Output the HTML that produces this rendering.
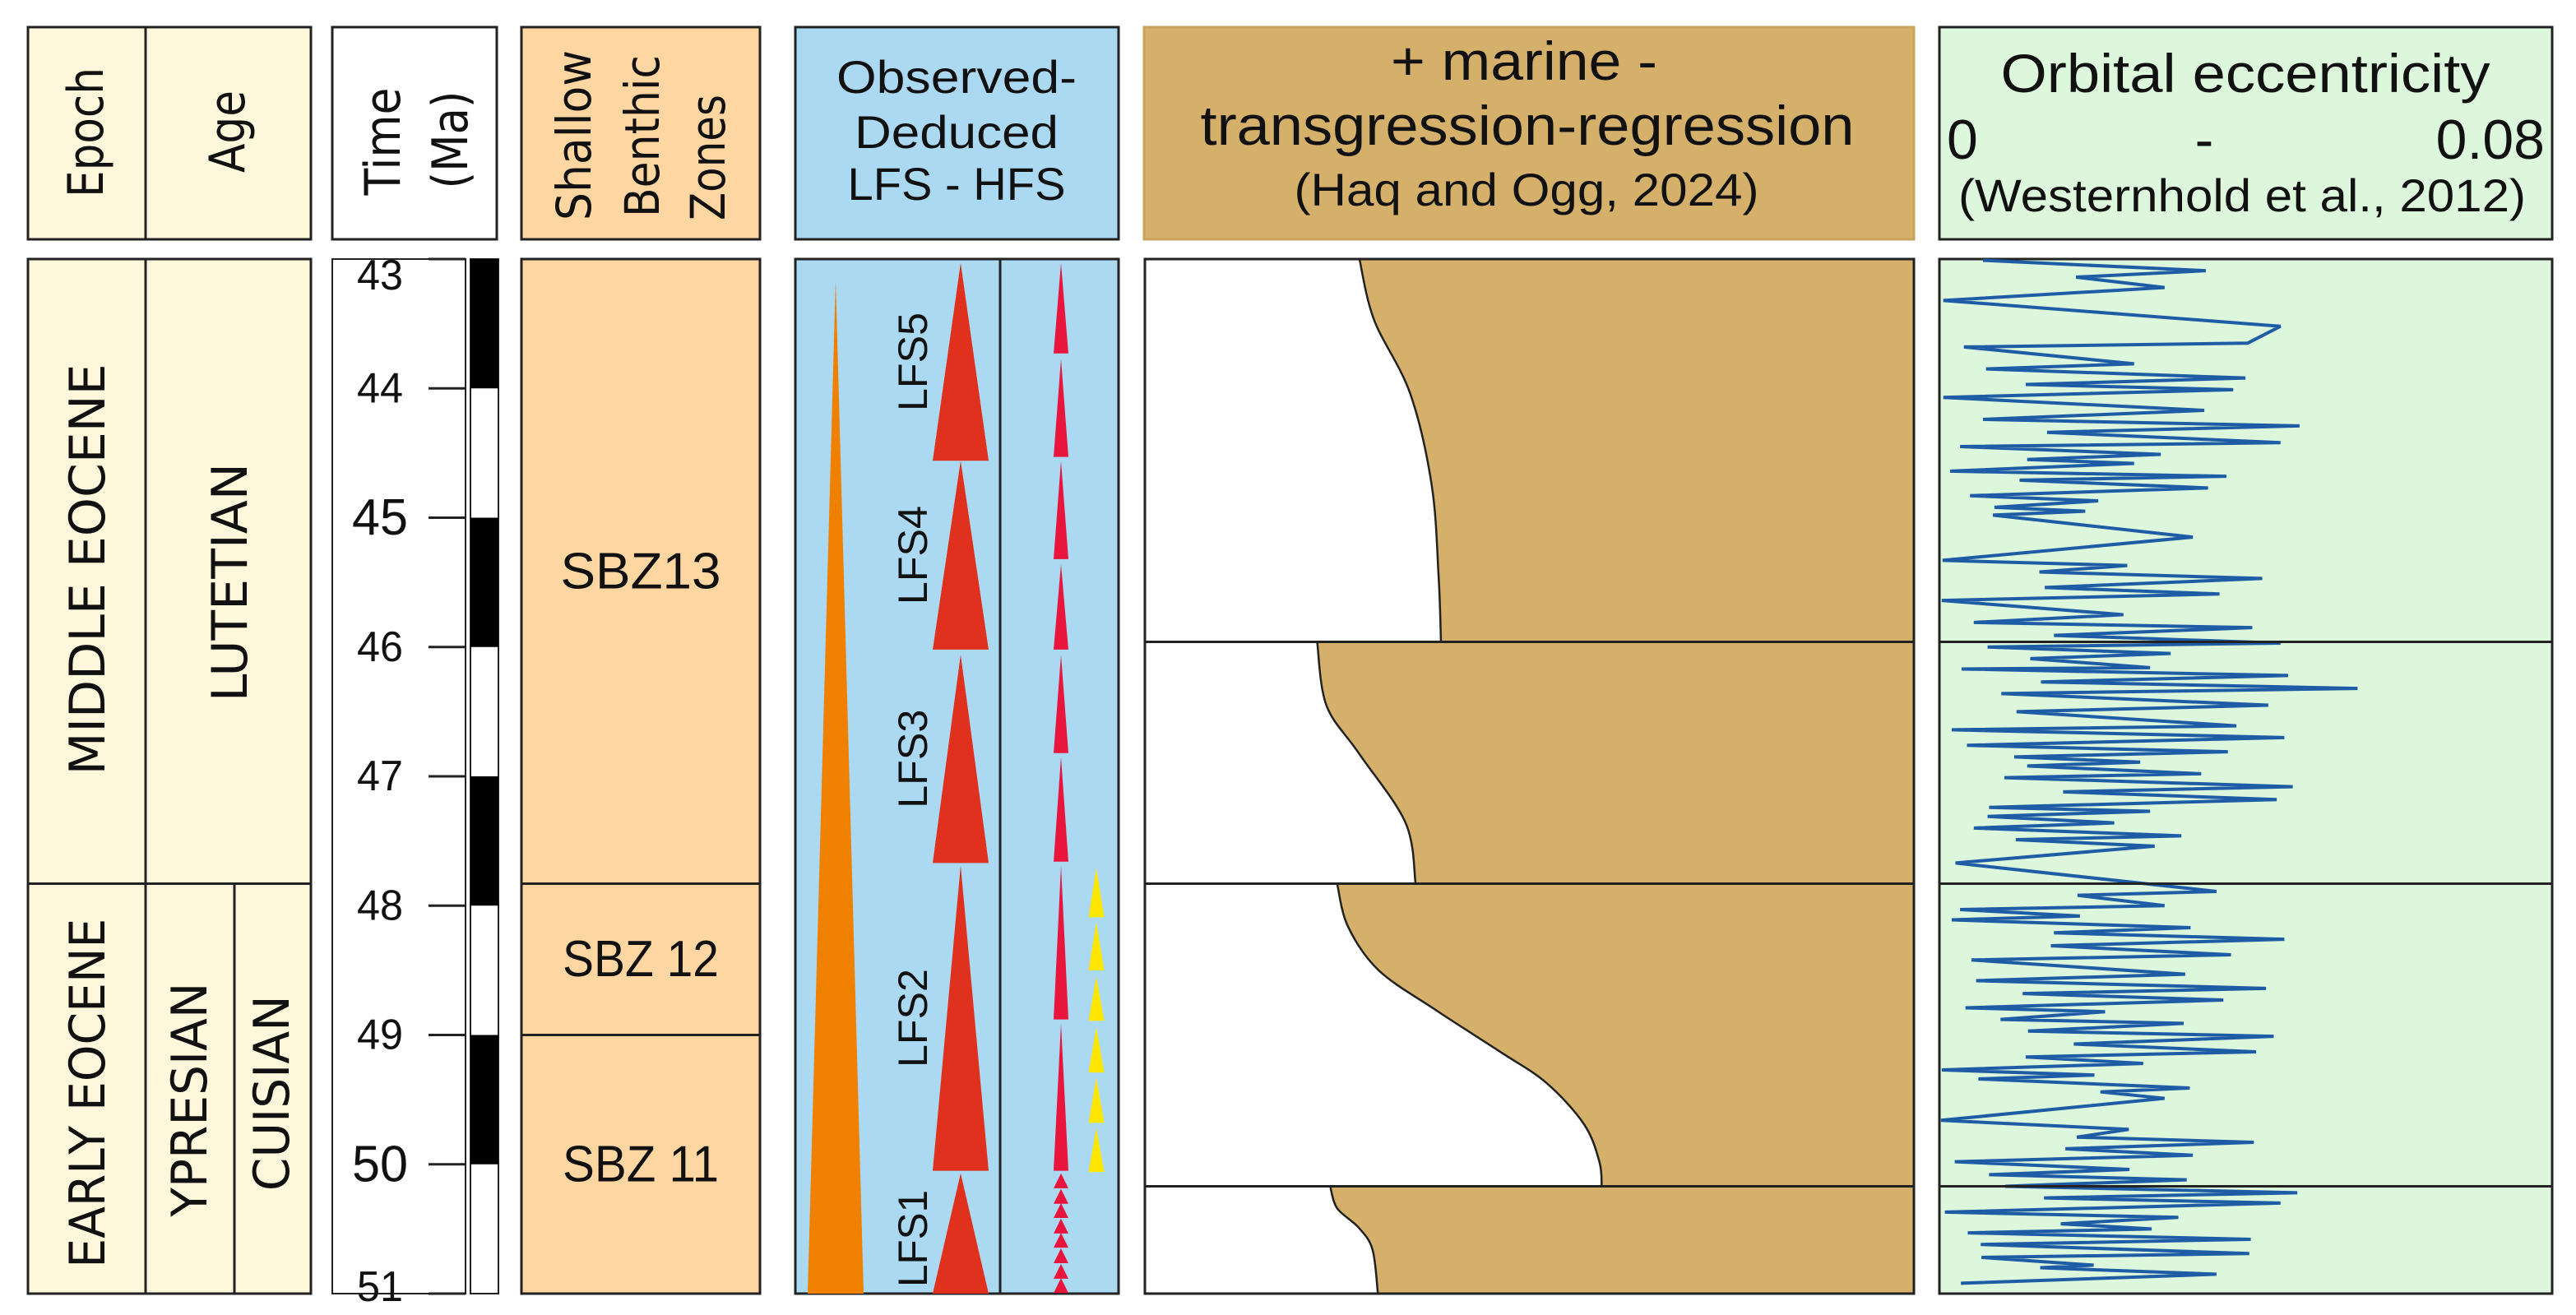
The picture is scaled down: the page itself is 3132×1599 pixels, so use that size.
<!DOCTYPE html>
<html><head><meta charset="utf-8"><style>
html,body{margin:0;padding:0;background:#fff;}
svg{display:block;}
text{font-family:"Liberation Sans","DejaVu Sans",sans-serif;fill:#111;}
.dv{font-family:"DejaVu Sans","Liberation Sans",sans-serif;}
</style></head><body>
<svg id="chart" width="3132" height="1599" viewBox="0 0 3132 1599" xmlns="http://www.w3.org/2000/svg">
<g stroke="#222" stroke-width="3">
<rect x="34" y="33" width="143" height="258" fill="#fff7dc"/>
<rect x="177" y="33" width="201" height="258" fill="#fff7dc"/>
<rect x="404" y="33" width="200" height="258" fill="#fff"/>
<rect x="634" y="33" width="290" height="258" fill="#fdd6a2"/>
<rect x="967" y="33" width="393" height="258" fill="#acd9f2"/>
<rect x="1391" y="33" width="936" height="258" fill="#d4b06a" stroke="#c9a45e"/>
<rect x="2358" y="33" width="745" height="258" fill="#dcf7dc"/>
</g>
<g>
<text class="dv" transform="translate(105,161) rotate(-90)" text-anchor="middle" dominant-baseline="central" font-size="60" textLength="158" lengthAdjust="spacingAndGlyphs">Epoch</text>
<text class="dv" transform="translate(277,160) rotate(-90)" text-anchor="middle" dominant-baseline="central" font-size="60" textLength="100" lengthAdjust="spacingAndGlyphs">Age</text>
<text class="dv" transform="translate(466,172) rotate(-90)" text-anchor="middle" dominant-baseline="central" font-size="60" textLength="131" lengthAdjust="spacingAndGlyphs">Time</text>
<text class="dv" transform="translate(548,170) rotate(-90)" text-anchor="middle" dominant-baseline="central" font-size="60" textLength="119" lengthAdjust="spacingAndGlyphs">(Ma)</text>
<text class="dv" transform="translate(698,268) rotate(-90)" dominant-baseline="central" font-size="58" textLength="207" lengthAdjust="spacingAndGlyphs">Shallow</text>
<text class="dv" transform="translate(781,264) rotate(-90)" dominant-baseline="central" font-size="58" textLength="197" lengthAdjust="spacingAndGlyphs">Benthic</text>
<text class="dv" transform="translate(861,268) rotate(-90)" dominant-baseline="central" font-size="58" textLength="153" lengthAdjust="spacingAndGlyphs">Zones</text>
<text x="1163" y="113" text-anchor="middle" font-size="56" textLength="292" lengthAdjust="spacingAndGlyphs">Observed-</text>
<text x="1163" y="180" text-anchor="middle" font-size="56" textLength="248" lengthAdjust="spacingAndGlyphs">Deduced</text>
<text x="1163" y="243" text-anchor="middle" font-size="56" textLength="265" lengthAdjust="spacingAndGlyphs">LFS - HFS</text>
<text x="1853" y="97" text-anchor="middle" font-size="66" textLength="324" lengthAdjust="spacingAndGlyphs">+ marine -</text>
<text x="1857" y="176" text-anchor="middle" font-size="68" textLength="795" lengthAdjust="spacingAndGlyphs">transgression-regression</text>
<text x="1856" y="250" text-anchor="middle" font-size="56" textLength="565" lengthAdjust="spacingAndGlyphs">(Haq and Ogg, 2024)</text>
<text x="2730" y="112" text-anchor="middle" font-size="66" textLength="595" lengthAdjust="spacingAndGlyphs">Orbital eccentricity</text>
<text x="2367" y="193" font-size="68">0</text>
<text x="2680" y="193" text-anchor="middle" font-size="68">-</text>
<text x="3094" y="193" text-anchor="end" font-size="68">0.08</text>
<text x="2726" y="257" text-anchor="middle" font-size="56" textLength="690" lengthAdjust="spacingAndGlyphs">(Westernhold et al., 2012)</text>
</g>
<g id="body"></g>
</svg>
<script>
// ---- data ----
const tickAges = [43,44,45,46,47,48,49,50,51];
const tickSizes = [52,52,62,52,52,52,52,62,52];
const chronBlackTop = [43,45,47,49];
const chronBlackBase = [44,46,48,50];
const sbzNames = ["SBZ13","SBZ 12","SBZ 11"];
const sbzTop = [43,47.83,49.0];
const sbzBase = [47.83,49.0,51];
const lfsNames = ["LFS5","LFS4","LFS3","LFS2","LFS1"];
const lfsApex = [43.03,44.56,46.06,47.69,50.07];
const lfsBase = [44.56,46.02,47.67,50.05,51];
const hfsApex = [43.03,43.77,44.56,45.36,46.06,46.85,47.69,48.91];
const hfsBase = [43.73,44.53,45.32,46.02,46.82,47.66,48.88,50.05];
const hfsTinyApex = [50.07,50.19,50.30,50.42,50.53,50.65,50.77,50.88];
const yellowApex = [47.71,48.13,48.55,48.94,49.33,49.72];
const yellowBase = [48.09,48.50,48.89,49.29,49.68,50.06];
const orangeApex = 43.16;
const seqBounds = [45.96,47.83,50.17];
const marineAge1 = [43.0,43.47,44.04,44.75,45.46,45.96];
const marineLvl1 = [0.279,0.298,0.345,0.373,0.382,0.385];
const marineAge2 = [45.96,46.45,46.82,47.36,47.83];
const marineLvl2 = [0.224,0.236,0.278,0.339,0.352];
const marineAge3 = [47.83,48.16,48.50,48.81,49.13,49.37,49.69,49.98,50.17];
const marineLvl3 = [0.25,0.264,0.304,0.379,0.462,0.522,0.571,0.591,0.594];
const marineAge4 = [50.17,50.34,50.49,50.66,51.0];
const marineLvl4 = [0.241,0.25,0.278,0.296,0.303];
const eccAge = [43.01,43.09,43.14,43.22,43.32,43.52,43.65,43.68,43.81,43.85,43.92,43.97,44.01,44.07,44.17,44.24,44.29,44.34,44.42,44.45,44.51,44.55,44.58,44.64,44.68,44.71,44.77,44.83,44.87,44.92,44.95,44.98,45.15,45.33,45.37,45.42,45.47,45.54,45.59,45.64,45.75,45.81,45.85,45.91,45.97,46.00,46.05,46.09,46.16,46.17,46.22,46.27,46.32,46.36,46.45,46.50,46.61,46.64,46.70,46.76,46.81,46.85,46.89,46.92,46.98,47.01,47.08,47.12,47.18,47.24,47.27,47.31,47.36,47.40,47.46,47.49,47.54,47.67,47.89,47.92,48.00,48.03,48.08,48.11,48.17,48.21,48.26,48.31,48.38,48.42,48.53,48.58,48.64,48.68,48.73,48.79,48.82,48.88,48.91,48.97,49.01,49.07,49.13,49.17,49.22,49.27,49.31,49.34,49.41,49.44,49.49,49.66,49.73,49.79,49.83,49.88,49.93,49.98,50.04,50.08,50.12,50.17,50.22,50.26,50.30,50.37,50.41,50.46,50.50,50.53,50.58,50.62,50.69,50.72,50.78,50.80,50.85,50.92];
const eccVal = [0.0055,0.0347,0.0177,0.0293,0.0003,0.0445,0.0402,0.0030,0.0253,0.0059,0.0399,0.0111,0.0383,0.0003,0.0345,0.0055,0.0470,0.0139,0.0445,0.0025,0.0288,0.0113,0.0253,0.0012,0.0374,0.0103,0.0350,0.0038,0.0206,0.0070,0.0189,0.0068,0.0330,0.0002,0.0244,0.0129,0.0421,0.0136,0.0365,0.0001,0.0239,0.0043,0.0408,0.0148,0.0445,0.0061,0.0301,0.0117,0.0274,0.0027,0.0455,0.0131,0.0546,0.0079,0.0429,0.0099,0.0387,0.0014,0.0450,0.0034,0.0376,0.0096,0.0261,0.0113,0.0341,0.0083,0.0461,0.0160,0.0440,0.0063,0.0274,0.0061,0.0227,0.0043,0.0315,0.0098,0.0280,0.0019,0.0361,0.0179,0.0293,0.0025,0.0182,0.0014,0.0327,0.0148,0.0450,0.0144,0.0380,0.0040,0.0320,0.0046,0.0426,0.0107,0.0370,0.0032,0.0215,0.0078,0.0318,0.0114,0.0436,0.0174,0.0413,0.0111,0.0265,0.0001,0.0201,0.0049,0.0326,0.0209,0.0293,0.0000,0.0246,0.0178,0.0410,0.0163,0.0330,0.0018,0.0247,0.0063,0.0322,0.0084,0.0467,0.0135,0.0445,0.0005,0.0311,0.0157,0.0276,0.0035,0.0406,0.0052,0.0404,0.0053,0.0200,0.0130,0.0361,0.0026];

// ---- scales ----
const TOP=315, BOT=1573;
function yS(a){return TOP+(a-43)*(BOT-TOP)/8;}
const ECC_L=2360, ECC_R=3102;
function xE(v){return ECC_L+v/0.08*(ECC_R-ECC_L);}
const MAR_L=1392, MAR_R=2327;
function xM(f){return MAR_L+f*(MAR_R-MAR_L);}

const NS="http://www.w3.org/2000/svg";
const body=document.getElementById('body');
function mk(tag,attrs,parent){const e=document.createElementNS(NS,tag);for(const k in attrs)e.setAttribute(k,attrs[k]);(parent||body).appendChild(e);return e;}
function tri(cx,w,apex,base,fill,name){
  const e=mk('polygon',{points:`${cx},${yS(apex)} ${cx+w/2},${yS(base)} ${cx-w/2},${yS(base)}`,fill:fill});
  
  
  return e;
}
function smooth(xs,ys){
  let d=`M${xs[0]},${ys[0]}`;
  for(let i=0;i<xs.length-1;i++){
    const x0=xs[Math.max(i-1,0)],y0=ys[Math.max(i-1,0)],x1=xs[i],y1=ys[i],x2=xs[i+1],y2=ys[i+1],x3=xs[Math.min(i+2,xs.length-1)],y3=ys[Math.min(i+2,xs.length-1)];
    d+=` C${x1+(x2-x0)/6},${y1+(y2-y0)/6} ${x2-(x3-x1)/6},${y2-(y3-y1)/6} ${x2},${y2}`;
  }
  return d;
}

// ---- epoch / age column ----
const yb=yS(47.83);
let r;
r=mk('rect',{x:34,y:TOP,width:143,height:yb-TOP,fill:'#fff7dc',stroke:'#222','stroke-width':3});


r=mk('rect',{x:177,y:TOP,width:201,height:yb-TOP,fill:'#fff7dc',stroke:'#222','stroke-width':3});


r=mk('rect',{x:34,y:yb,width:143,height:BOT-yb,fill:'#fff7dc',stroke:'#222','stroke-width':3});


r=mk('rect',{x:177,y:yb,width:108,height:BOT-yb,fill:'#fff7dc',stroke:'#222','stroke-width':3});


r=mk('rect',{x:285,y:yb,width:93,height:BOT-yb,fill:'#fff7dc',stroke:'#222','stroke-width':3});


function vtext(x,y,s,size,name,len){
  const t=mk('text',{transform:`translate(${x},${y}) rotate(-90)`,'text-anchor':'middle','font-size':size,'dominant-baseline':'central'});
  if(len){t.setAttribute('textLength',len);t.setAttribute('lengthAdjust','spacingAndGlyphs');}
  t.textContent=s;
  
  
  return t;
}
vtext(107,yS(45.4),'MIDDLE EOCENE',60,'middle-eocene-label',500).setAttribute('class','dv');
vtext(280,yS(45.5),'LUTETIAN',60,'lutetian-label',290).setAttribute('class','dv');
vtext(107,yS(49.45),'EARLY EOCENE',60,'early-eocene-label',425).setAttribute('class','dv');
vtext(231,yS(49.5),'YPRESIAN',60,'ypresian-label',285).setAttribute('class','dv');
vtext(331,yS(49.45),'CUISIAN',60,'cuisian-label',238).setAttribute('class','dv');

// ---- time column ----
r=mk('rect',{x:404,y:TOP,width:162,height:BOT-TOP,fill:'#fff',stroke:'#222','stroke-width':2});


r=mk('rect',{x:572,y:TOP,width:34,height:BOT-TOP,fill:'#fff',stroke:'#222','stroke-width':2});


for(let i=0;i<chronBlackTop.length;i++){
  const b=mk('rect',{x:572,y:yS(chronBlackTop[i]),width:34,height:yS(chronBlackBase[i])-yS(chronBlackTop[i]),fill:'#000'});
  
  
}
for(let i=0;i<tickAges.length;i++){
  const y=yS(tickAges[i]);
  const l=mk('line',{x1:521,x2:566,y1:y,y2:y,stroke:'#222','stroke-width':3});
  
  
  let ty=y; if(i===0) ty=y+20; if(i===tickAges.length-1) ty=y-8;
  const t=mk('text',{x:462,y:ty,'text-anchor':'middle','dominant-baseline':'central','font-size':tickSizes[i],textLength:tickSizes[i]>55?68:56,lengthAdjust:'spacingAndGlyphs'});
  t.textContent=tickAges[i];
  
  
}

// ---- SBZ column ----
for(let i=0;i<sbzNames.length;i++){
  const y0=yS(sbzTop[i]),y1=yS(sbzBase[i]);
  const c=mk('rect',{x:634,y:y0,width:290,height:y1-y0,fill:'#fdd6a2',stroke:'#222','stroke-width':3});
  
  
  const t=mk('text',{x:779,y:(y0+y1)/2,'text-anchor':'middle','dominant-baseline':'central','font-size':62,textLength:i===0?195:190,lengthAdjust:'spacingAndGlyphs'});
  t.textContent=sbzNames[i];
  
  
}

// ---- LFS / HFS column ----
r=mk('rect',{x:967,y:TOP,width:393,height:BOT-TOP,fill:'#acd9f2',stroke:'#222','stroke-width':3});


r=mk('line',{x1:1216,x2:1216,y1:TOP,y2:BOT,stroke:'#222','stroke-width':3});


tri(1016,68,orangeApex,51,'#f08000','long-term-trend-triangle');
for(let i=0;i<lfsNames.length;i++){
  tri(1168,68,lfsApex[i],lfsBase[i],'#e0301e','lfs-triangle');
  vtext(1110,(yS(lfsApex[i])+yS(Math.min(lfsBase[i],50.95)))/2+ (i===4?10:0),lfsNames[i],50,'lfs-label',i===4?118:120);
}
for(let i=0;i<hfsApex.length;i++) tri(1290,18,hfsApex[i],hfsBase[i],'#e8163c','hfs-triangle');
for(let i=0;i<hfsTinyApex.length;i++) tri(1290,18,hfsTinyApex[i],hfsTinyApex[i]+0.115,'#e8163c','hfs-small-triangle');
for(let i=0;i<yellowApex.length;i++) tri(1333,19,yellowApex[i],yellowBase[i],'#ffe600','yellow-triangle');

// ---- marine panel ----
r=mk('rect',{x:MAR_L,y:TOP,width:MAR_R-MAR_L,height:BOT-TOP,fill:'#fff',stroke:'#222','stroke-width':3});


const mAges=[marineAge1,marineAge2,marineAge3,marineAge4];
const mLvls=[marineLvl1,marineLvl2,marineLvl3,marineLvl4];
for(let k=0;k<4;k++){
  const xs=mLvls[k].map(xM), ys=mAges[k].map(yS);
  const curve=smooth(xs,ys);
  const fillPath=curve+` L${MAR_R},${ys[ys.length-1]} L${MAR_R},${ys[0]} Z`;
  const f=mk('path',{d:fillPath,fill:'#d4b06a'});
  
  
  const c=mk('path',{d:curve,fill:'none',stroke:'#222','stroke-width':2.5});
  
  
}
r=mk('rect',{x:MAR_L,y:TOP,width:MAR_R-MAR_L,height:BOT-TOP,fill:'none',stroke:'#222','stroke-width':3});



// ---- eccentricity panel ----
r=mk('rect',{x:2358,y:TOP,width:745,height:BOT-TOP,fill:'#dcf7dc',stroke:'#222','stroke-width':3});


const pts=eccAge.map((a,i)=>`${xE(eccVal[i])},${yS(a)}`).join(' ');
r=mk('polyline',{points:pts,fill:'none',stroke:'#1f5ca6','stroke-width':4,'stroke-linejoin':'miter','stroke-miterlimit':3});



// ---- sequence boundaries ----
for(let i=0;i<seqBounds.length;i++){
  const y=yS(seqBounds[i]);
  const a=mk('line',{x1:MAR_L,x2:MAR_R,y1:y,y2:y,stroke:'#222','stroke-width':3});
  
  
  const b=mk('line',{x1:2358,x2:3103,y1:y,y2:y,stroke:'#222','stroke-width':3});
  
  
}
</script>
</body></html>
